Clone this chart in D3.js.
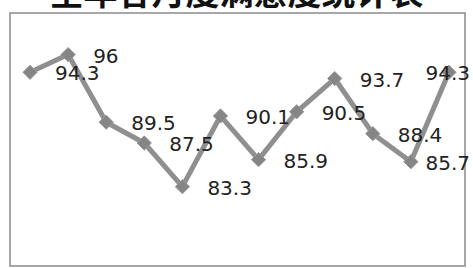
<!DOCTYPE html>
<html>
<head>
<meta charset="utf-8">
<script src="https://cdn.jsdelivr.net/npm/d3@7"></script>
<style>
	html, body { margin: 0; padding: 0; background: #fff; overflow: hidden; }
	svg { display: block; }
</style>
</head>
<body>
<svg id="chart" width="473" height="268"></svg>
<script>
// chart data
var title = "全年各月度满意度统计表";
var months = ["1月", "2月", "3月", "4月", "5月", "6月", "7月", "8月", "9月", "10月", "11月", "12月"];
var scores = [94.3, 96, 89.5, 87.5, 83.3, 90.1, 85.9, 90.5, 93.7, 88.4, 85.7, 94.3];
var yDomain = [75, 100];

var svg = d3.select("#chart");
var W = 473, H = 268;

// plot area frame (only part of the picture is visible)
var plot = { left: 10, top: 13, right: 465, bottom: 266 };

var x = d3.scaleBand()
	.domain(months)
	.range([plot.left + 1, plot.right + 3]);

var y = d3.scaleLinear()
	.domain(yDomain)
	.range([273, plot.top]);

// title, cut off at the top of the picture like in the original
svg.append("text")
	.attr("x", W / 2)
	.attr("y", 5)
	.attr("text-anchor", "middle")
	.attr("font-family", "'Noto Sans CJK SC', sans-serif")
	.attr("font-weight", "bold")
	.attr("font-size", 34)
	.attr("fill", "#111")
	.text(title);

svg.append("rect")
	.attr("x", plot.left)
	.attr("y", plot.top)
	.attr("width", plot.right - plot.left)
	.attr("height", plot.bottom - plot.top)
	.attr("fill", "none")
	.attr("stroke", "#8a8a8a")
	.attr("stroke-width", 1.5);

var cx = function(d, i) { return x(months[i]) + x.bandwidth() / 2; };

var line = d3.line()
	.x(cx)
	.y(function(d) { return y(d); });

svg.append("path")
	.datum(scores)
	.attr("d", line)
	.attr("fill", "none")
	.attr("stroke", "#8f8f8f")
	.attr("stroke-width", 5)
	.attr("stroke-linejoin", "round");

// diamond markers
svg.selectAll(".marker")
	.data(scores)
	.enter()
	.append("path")
	.attr("class", "marker")
	.attr("d", d3.symbol().type(d3.symbolDiamond2).size(130))
	.attr("transform", function(d, i) {
		return "translate(" + cx(d, i) + "," + y(d) + ")";
	})
	.attr("fill", "#858585")
	.attr("stroke", "#9a9a9a")
	.attr("stroke-width", 1);

// value labels, right of each point, pushed back inside the chart at the edge
svg.selectAll(".label")
	.data(scores)
	.enter()
	.append("text")
	.attr("class", "label")
	.attr("y", function(d) { return y(d) + 1; })
	.attr("dy", "0.36em")
	.attr("font-family", "'DejaVu Sans', sans-serif")
	.attr("font-size", 20)
	.attr("fill", "#222")
	.text(function(d) { return d; })
	.attr("x", function(d, i) {
		var w = this.getComputedTextLength();
		return Math.min(cx(d, i) + 25, W - 3 - w);
	});
</script>
</body>
</html>
